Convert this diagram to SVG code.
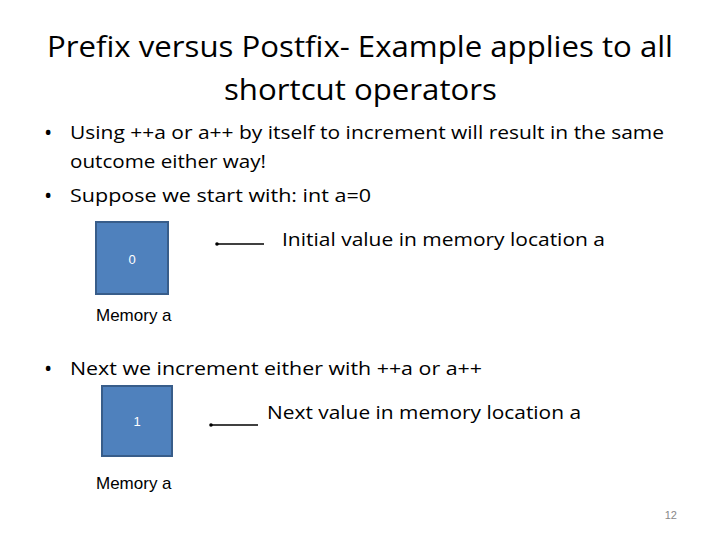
<svg xmlns="http://www.w3.org/2000/svg" width="720" height="540" viewBox="0 0 720 540" xml:space="preserve">
<style>
.t{font-family:"Open Sans","Liberation Sans",sans-serif;fill:#000}
.b{fill:#4f81bd;stroke:#385d8a;stroke-width:2}
.c{stroke:#000;stroke-width:1.5}
</style>
<rect width="720" height="540" fill="#fff"/>
<text class="t" x="47" y="57" font-size="30" textLength="626" lengthAdjust="spacingAndGlyphs">Prefix versus Postfix- Example applies to all</text>
<text class="t" x="224" y="100" font-size="30" textLength="273" lengthAdjust="spacingAndGlyphs">shortcut operators</text>
<text class="t" x="44" y="140" font-size="22">•</text>
<text class="t" x="70" y="139" font-size="19" textLength="594" lengthAdjust="spacingAndGlyphs">Using ++a or a++ by itself to increment will result in the same</text>
<text class="t" x="70" y="168" font-size="19" textLength="196" lengthAdjust="spacingAndGlyphs">outcome either way!</text>
<text class="t" x="44" y="203" font-size="22">•</text>
<text class="t" x="70" y="202" font-size="19" textLength="301" lengthAdjust="spacingAndGlyphs">Suppose we start with:  int a=0</text>
<g id="node1"><rect class="b" x="96" y="222" width="72" height="72"/><text x="132" y="264" font-size="13" fill="#fff" text-anchor="middle" font-family="Liberation Sans,sans-serif">0</text></g>
<text class="t" x="96" y="321" font-size="17" style="font-family:'Liberation Sans',sans-serif">Memory a</text>
<text class="t" x="282" y="246" font-size="19" textLength="323" lengthAdjust="spacingAndGlyphs">Initial value in memory location a</text>
<text class="t" x="44" y="376" font-size="22">•</text>
<text class="t" x="70" y="375" font-size="19" textLength="412" lengthAdjust="spacingAndGlyphs">Next we increment either with  ++a or a++</text>
<g id="node2"><rect class="b" x="102" y="386" width="70" height="70"/><text x="137" y="426" font-size="13" fill="#fff" text-anchor="middle" font-family="Liberation Sans,sans-serif">1</text></g>
<text class="t" x="96" y="489" font-size="17" style="font-family:'Liberation Sans',sans-serif">Memory a</text>
<text class="t" x="267" y="419" font-size="19" textLength="314" lengthAdjust="spacingAndGlyphs">Next value in memory location a</text>
<g id="connectors">
<line class="c" x1="217" y1="244" x2="264" y2="244"/><circle cx="217" cy="244" r="1.8"/>
<line class="c" x1="211" y1="425" x2="258" y2="425"/><circle cx="211" cy="425" r="1.8"/>
</g>
<text x="677" y="519" font-size="11" fill="#888" text-anchor="end" font-family="Liberation Sans,sans-serif">12</text>
</svg>
